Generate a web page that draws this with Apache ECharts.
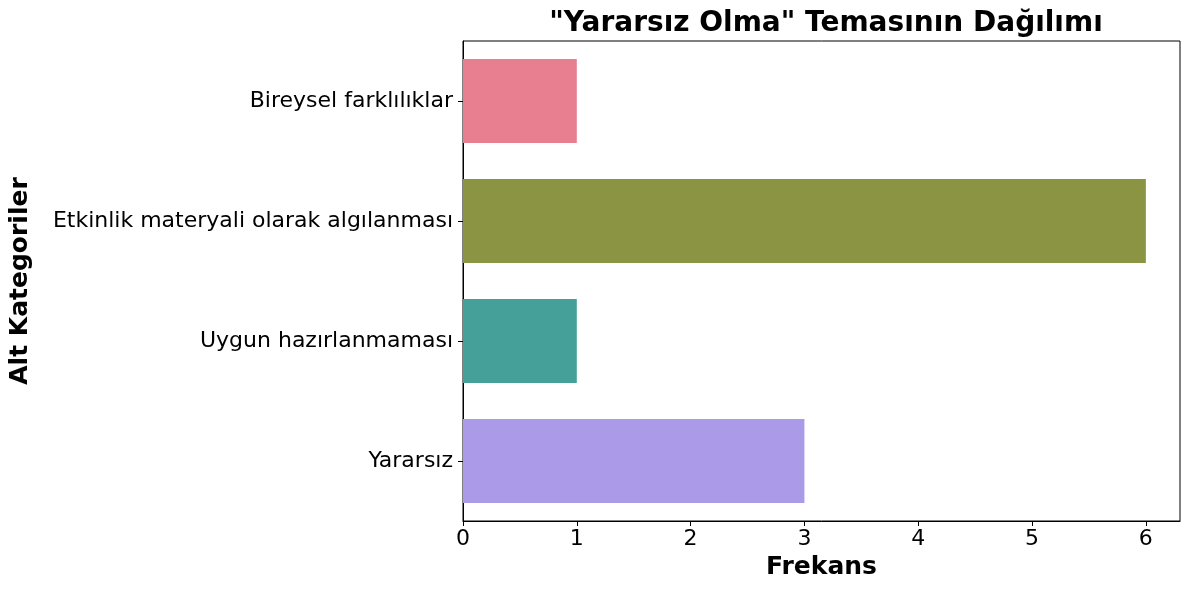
<!DOCTYPE html>
<html>
<head>
<meta charset="utf-8">
<script src="https://cdn.jsdelivr.net/npm/echarts@6/dist/echarts.min.js"></script>
<style>
  html, body { margin: 0; padding: 0; background: #fff; }
  #chart { width: 1189px; height: 590px; }
</style>
</head>
<body>
<div id="chart"></div>
<script>
// data
const categories = ['Bireysel farklılıklar', 'Etkinlik materyali olarak algılanması', 'Uygun hazırlanmaması', 'Yararsız'];
const frequencies = [1, 6, 1, 3];
const barColors = ['#e77f91', '#8b9442', '#46a09a', '#ab9ae8'];
const xTicks = [0, 1, 2, 3, 4, 5, 6];

const font = 'DejaVu Sans';
const chart = echarts.init(document.getElementById('chart'));

chart.setOption({
  animation: false,
  textStyle: { fontFamily: font },
  title: {
    text: '"Yararsız Olma" Temasının Dağılımı',
    left: 821,
    textAlign: 'center',
    top: 5,
    textStyle: { fontFamily: font, fontSize: 28, fontWeight: 'bold', color: '#000' }
  },
  grid: {
    left: 462, right: 9, top: 41, bottom: 69,
    show: true, borderColor: '#000', borderWidth: 1
  },
  xAxis: {
    type: 'value',
    min: 0, max: 6.3, interval: 1,
    name: 'Frekans',
    nameLocation: 'middle',
    nameGap: 34,
    nameTextStyle: { fontFamily: font, fontSize: 25, fontWeight: 'bold', color: '#000' },
    axisLine: { show: true, lineStyle: { color: '#000' } },
    axisTick: { show: true, length: 5, customValues: xTicks, lineStyle: { color: '#000' } },
    axisLabel: {
      fontFamily: font, fontSize: 22, color: '#000', margin: 7,
      customValues: xTicks
    },
    splitLine: { show: false }
  },
  yAxis: {
    type: 'category',
    data: categories,
    inverse: true,
    name: 'Alt Kategoriler',
    nameLocation: 'middle',
    nameGap: 430,
    nameRotate: 90,
    nameTextStyle: { fontFamily: font, fontSize: 25, fontWeight: 'bold', color: '#000' },
    axisLine: { show: true, lineStyle: { color: '#000' } },
    axisTick: { show: true, alignWithLabel: true, length: 5, lineStyle: { color: '#000' } },
    axisLabel: { fontFamily: font, fontSize: 22, color: '#000', margin: 10 }
  },
  series: [{
    type: 'bar',
    barWidth: '70%',
    data: frequencies.map((v, i) => ({ value: v, itemStyle: { color: barColors[i] } }))
  }]
});
</script>
</body>
</html>
